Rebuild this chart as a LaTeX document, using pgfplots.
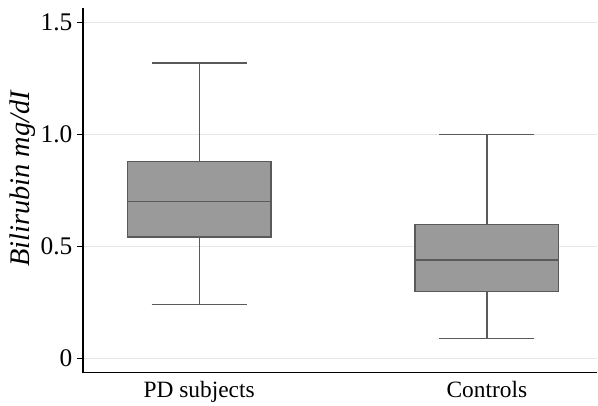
\documentclass[border=0pt]{standalone}
\usepackage{fontspec}
\setmainfont{Liberation Serif}
\usepackage{pgfplots}
\pgfplotsset{compat=1.18}
\usepgfplotslibrary{statistics}
\definecolor{boxfill}{HTML}{9A9A9A}
\definecolor{boxedge}{HTML}{5A5A5A}
\definecolor{gridc}{HTML}{E6E6E6}
\begin{document}
\begin{tikzpicture}
\begin{axis}[
  scale only axis,
  width=515bp, height=365bp,
  xmin=-0.404, xmax=1.384,
  ymin=-0.0635, ymax=1.566,
  axis lines*=left,
  axis line style={line width=1.2bp, black},
  xtick={0,1},
  xticklabels={PD subjects, Controls},
  major x tick style={draw=none},
  ytick={0,0.5,1,1.5},
  yticklabels={0,0.5,1.0,1.5},
  /pgf/number format/assume math mode=true,
  ytick style={line width=1bp, black},
  tick align=outside,
  major tick length=6bp,
  ymajorgrids,
  grid style={gridc, line width=1bp},
  yticklabel style={font=\fontsize{25.5}{28}\selectfont, xshift=-1bp},
  xticklabel style={font=\fontsize{23.5}{26}\selectfont, yshift=1bp},
  ylabel={\itshape Bilirubin mg/dI},
  ylabel style={font=\fontsize{28.5}{32}\selectfont, at={(axis description cs:-0.117,0.531)}, anchor=center},
  clip=false,
  boxplot/draw direction=y,
]
\addplot+[no marks, fill=boxfill, draw=boxedge, line width=1.3bp,
  boxplot prepared={draw position=0, median=0.70, upper quartile=0.88, lower quartile=0.543,
    upper whisker=1.32, lower whisker=0.242, box extend=0.5, whisker extend=0.33}] coordinates {};
\addplot+[no marks, fill=boxfill, draw=boxedge, line width=1.3bp,
  boxplot prepared={draw position=1, median=0.44, upper quartile=0.60, lower quartile=0.30,
    upper whisker=1.0, lower whisker=0.09, box extend=0.5, whisker extend=0.33}] coordinates {};
\end{axis}
\path (current axis.south west) ++(-83bp,-32bp) coordinate (bl);
\path (current axis.north east) ++(0bp,8bp) coordinate (tr);
\useasboundingbox (bl) rectangle (tr);
\end{tikzpicture}
\end{document}
